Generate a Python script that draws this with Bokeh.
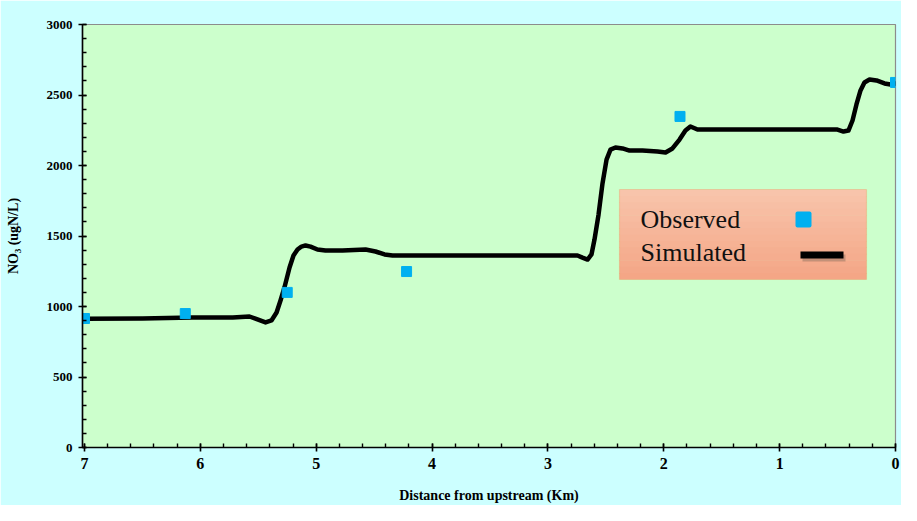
from bokeh.plotting import figure
from bokeh.models import Range1d, SingleIntervalTicker, BoxAnnotation, Label
from bokeh.embed import file_html
from bokeh.resources import INLINE

# ---- data ----
obs_dist = [7.0, 6.13, 5.25, 4.22, 1.86, 0.0]
obs_no3 = [915, 950, 1100, 1248, 2348, 2589]

sim_dist = [7.0, 6.50, 6.07, 5.72, 5.576, 5.507, 5.437, 5.386, 5.342, 5.308,
            5.274, 5.230, 5.196, 5.161, 5.127, 5.092, 5.049, 4.989, 4.920, 4.773,
            4.574, 4.488, 4.410, 4.341, 3.910, 2.745, 2.702, 2.658, 2.624, 2.598,
            2.563, 2.529, 2.494, 2.460, 2.417, 2.356, 2.296, 2.184, 2.054, 1.985,
            1.925, 1.864, 1.813, 1.770, 1.709, 1.580, 0.501, 0.449, 0.406, 0.371,
            0.337, 0.302, 0.268, 0.224, 0.164, 0.095, 0.043, 0.0]
sim_no3 = [914, 915, 922, 922, 929, 908, 887, 901, 957, 1043,
           1135, 1277, 1362, 1404, 1425, 1433, 1425, 1404, 1397, 1397,
           1404, 1390, 1369, 1362, 1362, 1362, 1347, 1333, 1369, 1475,
           1652, 1872, 2042, 2113, 2128, 2121, 2106, 2106, 2099, 2092,
           2121, 2184, 2248, 2277, 2255, 2255, 2255, 2241, 2248, 2319,
           2433, 2532, 2589, 2610, 2603, 2582, 2574, 2582]

x_label = "Distance from upstream (Km)"
y_label = "NO\u2083 (ugN/L)"
legend_labels = ["Observed", "Simulated"]

# ---- geometry ----
W, H = 901, 505
BL, BR, BT, BB = 82, 6, 24, 58
FW = W - BL - BR
FH = H - BT - BB
X0 = 7.017
Y1 = 3000
PAGE = 8  # page margin
FL = PAGE + BL
FT = PAGE + BT


def dx(px):
    return X0 - (px - FL) * X0 / FW


def vy(py):
    return (FT + FH - py) * Y1 / FH


p = figure(width=W, height=H, output_backend="svg", toolbar_location=None,
           x_range=Range1d(X0, 0), y_range=Range1d(0, Y1),
           min_border_left=BL, min_border_right=BR,
           min_border_top=BT, min_border_bottom=BB)
p.border_fill_color = "#ccffff"
p.background_fill_color = "#ccffcc"
p.outline_line_color = "#8c8c8c"
p.outline_line_width = 1.2
p.xgrid.visible = False
p.ygrid.visible = False

FONT = "Liberation Serif"

p.xaxis.ticker = SingleIntervalTicker(interval=1, num_minor_ticks=5)
p.yaxis.ticker = SingleIntervalTicker(interval=500, num_minor_ticks=5)
for ax in (p.xaxis[0], p.yaxis[0]):
    ax.axis_line_color = "black"
    ax.axis_line_width = 1.6
    ax.major_tick_line_color = "black"
    ax.major_tick_line_width = 1.6
    ax.minor_tick_line_color = "black"
    ax.minor_tick_line_width = 1.4
    ax.major_tick_in = 4
    ax.major_tick_out = 4
    ax.minor_tick_in = 4
    ax.minor_tick_out = 0
    ax.major_label_text_font = FONT
    ax.major_label_text_font_style = "bold"
    ax.major_label_text_color = "black"
    ax.axis_label_text_font = FONT
    ax.axis_label_text_font_style = "bold"
    ax.axis_label_text_color = "black"
    ax.axis_label_text_font_size = "14px"

p.xaxis.major_label_text_font_size = "16px"
p.yaxis.major_label_text_font_size = "13px"
p.xaxis.major_label_standoff = 6
p.yaxis.major_label_standoff = 6
p.xaxis.axis_label = x_label
p.yaxis.axis_label = y_label
p.xaxis.axis_label_standoff = 16
p.yaxis.axis_label_standoff = 23

p.line(sim_dist, sim_no3, line_width=4.5, line_color="black",
       line_join="round", line_cap="round")
p.scatter(obs_dist, obs_no3, marker="square", size=10,
          fill_color="#00b0f0", line_color="#00b0f0")

# ---- custom legend (label left, glyph right) ----
lx0, lx1, ly0, ly1 = 627, 874, 197, 287
top_c = (248, 196, 171)
bot_c = (244, 166, 134)
n = 14
for i in range(n):
    t = i / (n - 1)
    c = tuple(int(round(a + (b - a) * t)) for a, b in zip(top_c, bot_c))
    y_a = ly0 + (ly1 - ly0) * i / n
    y_b = ly0 + (ly1 - ly0) * (i + 1) / n + 0.6
    p.add_layout(BoxAnnotation(left=dx(lx0), right=dx(lx1), top=vy(y_a), bottom=vy(min(y_b, ly1)),
                               fill_color="#%02x%02x%02x" % c, fill_alpha=1.0,
                               line_color=None, level="annotation"))
p.add_layout(BoxAnnotation(left=dx(lx0), right=dx(lx1), top=vy(ly0), bottom=vy(ly1),
                           fill_alpha=0, line_color="#ee8f4e", line_width=1.2,
                           level="annotation"))

for lab, cy in zip(legend_labels, [227, 260]):
    p.add_layout(Label(x=dx(648), y=vy(cy), text=lab, text_font=FONT,
                       text_font_size="26px", text_color="#111111",
                       text_baseline="middle", text_align="left"))

# observed glyph sample
p.add_layout(BoxAnnotation(left=dx(803), right=dx(819), top=vy(219), bottom=vy(235),
                           fill_color="#00b0f0", fill_alpha=1.0, line_color=None,
                           border_radius=2, level="annotation"))
# simulated glyph sample with soft shadow
p.add_layout(BoxAnnotation(left=dx(810), right=dx(853), top=vy(262), bottom=vy(269),
                           fill_color="#8a6a5a", fill_alpha=0.45, line_color=None,
                           level="annotation"))
p.add_layout(BoxAnnotation(left=dx(808), right=dx(851), top=vy(259), bottom=vy(266),
                           fill_color="black", fill_alpha=1.0, line_color=None,
                           level="annotation"))

open("out.html", "w").write(file_html(p, INLINE))
